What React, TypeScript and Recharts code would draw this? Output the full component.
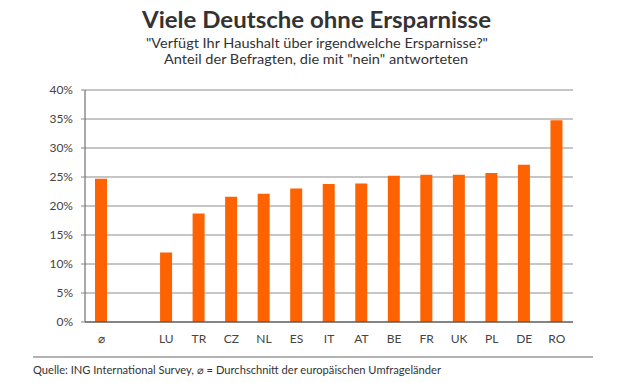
import React from 'react';
import { BarChart, Bar, XAxis, YAxis, CartesianGrid } from 'recharts';

const countries = ['⌀', '', 'LU', 'TR', 'CZ', 'NL', 'ES', 'IT', 'AT', 'BE', 'FR', 'UK', 'PL', 'DE', 'RO'];
const shareNo = [24.7, null, 12.0, 18.7, 21.6, 22.1, 23.0, 23.8, 23.9, 25.2, 25.4, 25.4, 25.7, 27.1, 34.8];
const yTicks = [0, 5, 10, 15, 20, 25, 30, 35, 40];

const data = countries.map((name, i) => ({ name, value: shareNo[i] }));

const font = 'Lato, "Open Sans", sans-serif';

const App = () => {
  return (
    <div style={{ position: 'absolute', left: 0, top: 0, width: 621, height: 383, background: '#fff' }}>
      <BarChart
        width={621}
        height={383}
        data={data}
        margin={{ top: 90, right: 48, bottom: 31, left: 0 }}
        style={{ fontFamily: font }}
      >
        <CartesianGrid vertical={false} stroke="#8c8c8c" />
        <XAxis
          dataKey="name"
          height={30}
          tickLine={false}
          tickSize={6}
          tickMargin={6}
          axisLine={{ stroke: '#444' }}
          tick={{ fill: '#444', fontSize: 12 }}
          interval={0}
        />
        <YAxis
          width={85}
          domain={[0, 40]}
          ticks={yTicks}
          tickFormatter={(v: number) => `${v}%`}
          tickSize={4}
          tickMargin={8}
          axisLine={{ stroke: '#555' }}
          tickLine={{ stroke: '#888' }}
          tick={{ fill: '#444', fontSize: 12 }}
        />
        <Bar dataKey="value" fill="#ff6200" barSize={12} isAnimationActive={false} />
      </BarChart>
      <svg
        width={621}
        height={383}
        style={{ position: 'absolute', left: 0, top: 0, pointerEvents: 'none', fontFamily: font }}
      >
        <text x={142} y={28} fontSize={23} fontWeight="bold" fill="#333" textLength={349} lengthAdjust="spacingAndGlyphs">
          Viele Deutsche ohne Ersparnisse
        </text>
        <text x={146} y={48} fontSize={14} fill="#333" textLength={342} lengthAdjust="spacingAndGlyphs">
          "Verfügt Ihr Haushalt über irgendwelche Ersparnisse?"
        </text>
        <text x={164} y={64} fontSize={14} fill="#333" textLength={304} lengthAdjust="spacingAndGlyphs">
          Anteil der Befragten, die mit "nein" antworteten
        </text>
        <line x1={33} x2={593} y1={357} y2={357} stroke="#666" />
        <text x={33} y={374} fontSize={11} fill="#333" textLength={408} lengthAdjust="spacingAndGlyphs">
          Quelle: ING International Survey, ⌀ = Durchschnitt der europäischen Umfrageländer
        </text>
      </svg>
    </div>
  );
};

export default App;
